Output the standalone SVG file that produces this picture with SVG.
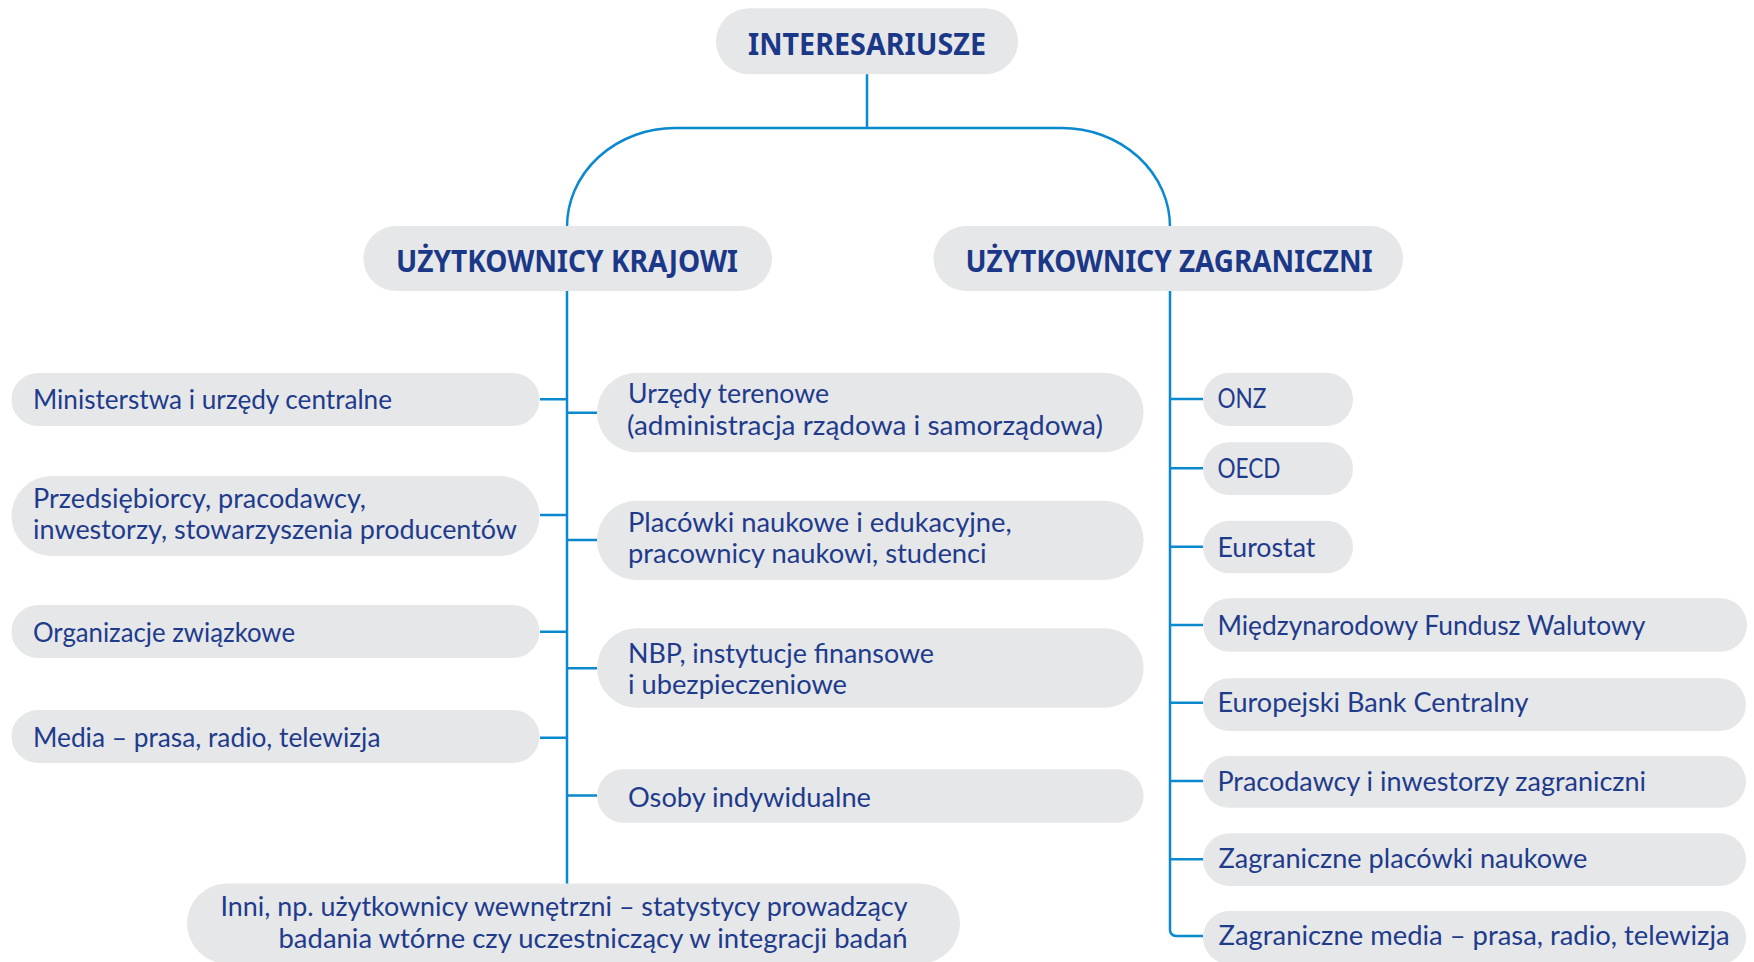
<svg xmlns="http://www.w3.org/2000/svg" width="1754" height="962" viewBox="0 0 1754 962">
<style>
.p{fill:#e6e7e9}
.t{font-family:Lato,'Noto Sans',sans-serif;font-size:26px;fill:#1f3b8c}
.h{font-family:'Noto Sans','Open Sans',sans-serif;font-size:31px;font-weight:bold;fill:#1b3888;font-stretch:condensed}
.c{fill:none;stroke:#0a89cf;stroke-width:2.5}
</style>
<rect width="1754" height="962" fill="#ffffff"/>
<g id="connectors" class="c">
<path d="M867,74 V128"/>
<path d="M567,227 A108,99 0 0 1 675,128 H1062 A108,99 0 0 1 1170,227"/>
<path d="M567,291 V884"/>
<path d="M540,399.3 H567 M540,515 H567 M540,631.7 H567 M540,737.7 H567"/>
<path d="M567,412.7 H597 M567,540 H597 M567,668.3 H597 M567,795.5 H597"/>
<path d="M1170,291 V930 A6,6 0 0 0 1176,936 H1203"/>
<path d="M1170,399 H1203 M1170,468.3 H1203 M1170,546.7 H1203 M1170,625 H1203 M1170,702.7 H1203 M1170,781 H1203 M1170,859.3 H1203"/>
</g>
<g id="interesariusze">
<rect class="p" x="716" y="8.3" width="302" height="66" rx="33"/>
<text class="h" x="748" y="55" textLength="238" lengthAdjust="spacingAndGlyphs">INTERESARIUSZE</text>
</g>
<g id="krajowi">
<rect class="p" x="363.5" y="226" width="408.5" height="65" rx="32.5"/>
<text class="h" x="396" y="271.7" textLength="342" lengthAdjust="spacingAndGlyphs">UŻYTKOWNICY KRAJOWI</text>
</g>
<g id="zagraniczni">
<rect class="p" x="933.5" y="226" width="469.5" height="65" rx="32.5"/>
<text class="h" x="965.5" y="271.7" textLength="407" lengthAdjust="spacingAndGlyphs">UŻYTKOWNICY ZAGRANICZNI</text>
</g>
<g id="ministerstwa">
<rect class="p" x="11.5" y="373" width="528" height="53" rx="26.5"/>
<text class="t" x="33" y="409.3" textLength="359" lengthAdjust="spacingAndGlyphs">Ministerstwa i urzędy centralne</text>
</g>
<g id="przedsiebiorcy">
<rect class="p" x="11.5" y="476" width="528" height="80" rx="40"/>
<text class="t" x="33" y="507.5" textLength="333" lengthAdjust="spacingAndGlyphs">Przedsiębiorcy, pracodawcy,</text>
<text class="t" x="33" y="539.3" textLength="484" lengthAdjust="spacingAndGlyphs">inwestorzy, stowarzyszenia producentów</text>
</g>
<g id="organizacje">
<rect class="p" x="11.5" y="605" width="528" height="53" rx="26.5"/>
<text class="t" x="33" y="641.7" textLength="262" lengthAdjust="spacingAndGlyphs">Organizacje związkowe</text>
</g>
<g id="media">
<rect class="p" x="11.5" y="710" width="528" height="53" rx="26.5"/>
<text class="t" x="33" y="747" textLength="347.5" lengthAdjust="spacingAndGlyphs">Media – prasa, radio, telewizja</text>
</g>
<g id="urzedy">
<rect class="p" x="597" y="372.7" width="546.6" height="79.6" rx="39.8"/>
<text class="t" x="628" y="403.3" textLength="201" lengthAdjust="spacingAndGlyphs">Urzędy terenowe</text>
<text class="t" x="627" y="435" textLength="476" lengthAdjust="spacingAndGlyphs">(administracja rządowa i samorządowa)</text>
</g>
<g id="placowki">
<rect class="p" x="597" y="500.7" width="546.6" height="79.3" rx="39.6"/>
<text class="t" x="628" y="531.7" textLength="383.6" lengthAdjust="spacingAndGlyphs">Placówki naukowe i edukacyjne,</text>
<text class="t" x="628" y="563.3" textLength="358.7" lengthAdjust="spacingAndGlyphs">pracownicy naukowi, studenci</text>
</g>
<g id="nbp">
<rect class="p" x="597" y="628.3" width="546.6" height="79.4" rx="39.7"/>
<text class="t" x="628" y="662.7" textLength="306" lengthAdjust="spacingAndGlyphs">NBP, instytucje finansowe</text>
<text class="t" x="628" y="694.3" textLength="219" lengthAdjust="spacingAndGlyphs">i ubezpieczeniowe</text>
</g>
<g id="osoby">
<rect class="p" x="597" y="769.3" width="546.6" height="53.4" rx="26.7"/>
<text class="t" x="628" y="806.7" textLength="243" lengthAdjust="spacingAndGlyphs">Osoby indywidualne</text>
</g>
<g id="inni">
<rect class="p" x="187" y="883.5" width="773" height="80" rx="40"/>
<text class="t" x="220.5" y="916" textLength="687" lengthAdjust="spacingAndGlyphs">Inni, np. użytkownicy wewnętrzni – statystycy prowadzący</text>
<text class="t" x="278.5" y="947.5" textLength="629" lengthAdjust="spacingAndGlyphs">badania wtórne czy uczestniczący w integracji badań</text>
</g>
<g id="onz">
<rect class="p" x="1203" y="372.7" width="150" height="53.3" rx="26.6"/>
<text class="t" x="1217.4" y="408.3" textLength="49" lengthAdjust="spacingAndGlyphs">ONZ</text>
</g>
<g id="oecd">
<rect class="p" x="1203" y="442.3" width="150" height="52.7" rx="26.3"/>
<text class="t" x="1217.4" y="478.3" textLength="63" lengthAdjust="spacingAndGlyphs">OECD</text>
</g>
<g id="eurostat">
<rect class="p" x="1203" y="520.7" width="150" height="52.6" rx="26.3"/>
<text class="t" x="1217.4" y="556.7" textLength="98" lengthAdjust="spacingAndGlyphs">Eurostat</text>
</g>
<g id="mfw">
<rect class="p" x="1203" y="598.3" width="544" height="53.4" rx="26.7"/>
<text class="t" x="1217.4" y="635" textLength="428" lengthAdjust="spacingAndGlyphs">Międzynarodowy Fundusz Walutowy</text>
</g>
<g id="ebc">
<rect class="p" x="1203" y="678.3" width="543" height="52.7" rx="26.3"/>
<text class="t" x="1217.4" y="711.7" textLength="311" lengthAdjust="spacingAndGlyphs">Europejski Bank Centralny</text>
</g>
<g id="pracodawcy">
<rect class="p" x="1203" y="756" width="543" height="51.7" rx="25.8"/>
<text class="t" x="1217.4" y="790.7" textLength="428.6" lengthAdjust="spacingAndGlyphs">Pracodawcy i inwestorzy zagraniczni</text>
</g>
<g id="zagr-placowki">
<rect class="p" x="1203" y="833.3" width="543" height="52.7" rx="26.3"/>
<text class="t" x="1218.6" y="868.3" textLength="368.6" lengthAdjust="spacingAndGlyphs">Zagraniczne placówki naukowe</text>
</g>
<g id="zagr-media">
<rect class="p" x="1203" y="911" width="543" height="53" rx="26.5"/>
<text class="t" x="1218.6" y="945" textLength="511" lengthAdjust="spacingAndGlyphs">Zagraniczne media – prasa, radio, telewizja</text>
</g>
</svg>
